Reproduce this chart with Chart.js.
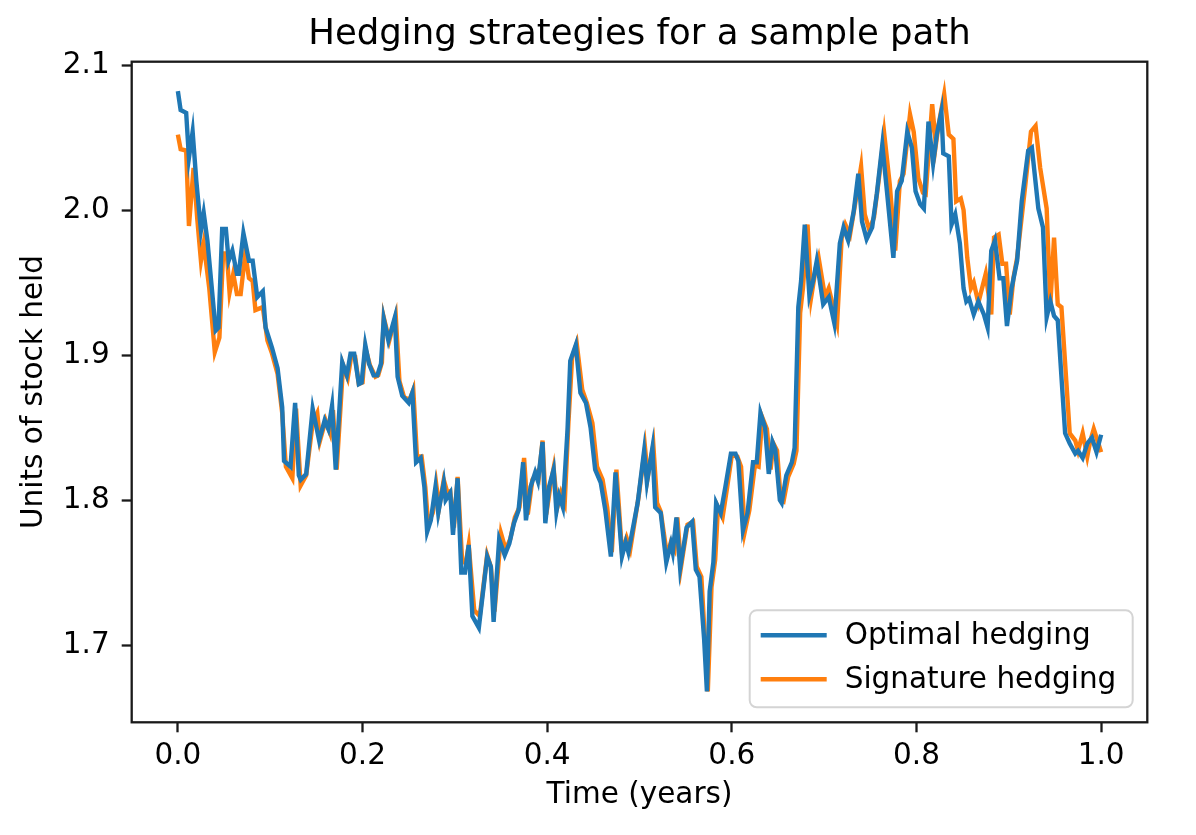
<!DOCTYPE html>
<html>
<head>
<meta charset="utf-8">
<title>Hedging strategies for a sample path</title>
<script src="https://cdn.jsdelivr.net/npm/chart.js@4.4.1/dist/chart.umd.min.js"></script>
<style>
  html, body { margin: 0; padding: 0; background: #ffffff; }
  #chart { display: block; }
</style>
</head>
<body>
<canvas id="chart" width="1196" height="835"></canvas>
<script>
// Optimal hedging (blue) - time in years and units of stock held
const optimalTime = [
  0.000, 0.003, 0.009, 0.012, 0.016, 0.020, 0.025, 0.028, 0.032, 0.041,
  0.044, 0.048, 0.052, 0.055, 0.059, 0.064, 0.066, 0.071, 0.077, 0.081,
  0.086, 0.092, 0.095, 0.102, 0.108, 0.113, 0.115, 0.122, 0.127, 0.131,
  0.133, 0.139, 0.146, 0.153, 0.159, 0.163, 0.167, 0.171, 0.178, 0.183,
  0.187, 0.191, 0.196, 0.199, 0.203, 0.207, 0.212, 0.216, 0.220, 0.223,
  0.228, 0.235, 0.238, 0.243, 0.250, 0.254, 0.258, 0.263, 0.267, 0.270,
  0.274, 0.279, 0.282, 0.288, 0.290, 0.295, 0.298, 0.303, 0.307, 0.311,
  0.315, 0.319, 0.326, 0.335, 0.339, 0.342, 0.348, 0.354, 0.359, 0.364,
  0.369, 0.374, 0.377, 0.382, 0.387, 0.390, 0.395, 0.398, 0.402, 0.407,
  0.410, 0.413, 0.417, 0.422, 0.425, 0.431, 0.436, 0.442, 0.447, 0.452,
  0.458, 0.463, 0.469, 0.474, 0.481, 0.485, 0.488, 0.498, 0.505, 0.508,
  0.514, 0.517, 0.523, 0.529, 0.534, 0.536, 0.540, 0.544, 0.551, 0.557,
  0.561, 0.565, 0.570, 0.573, 0.576, 0.580, 0.583, 0.588, 0.593, 0.599,
  0.604, 0.607, 0.612, 0.617, 0.623, 0.627, 0.631, 0.636, 0.640, 0.644,
  0.647, 0.652, 0.654, 0.659, 0.665, 0.668, 0.672, 0.675, 0.679, 0.684,
  0.688, 0.692, 0.699, 0.705, 0.711, 0.717, 0.721, 0.726, 0.732, 0.737,
  0.741, 0.746, 0.752, 0.757, 0.763, 0.768, 0.775, 0.779, 0.784, 0.790,
  0.795, 0.799, 0.804, 0.808, 0.813, 0.818, 0.822, 0.827, 0.829, 0.835,
  0.838, 0.842, 0.847, 0.851, 0.854, 0.857, 0.862, 0.867, 0.873, 0.877,
  0.881, 0.885, 0.890, 0.894, 0.898, 0.903, 0.909, 0.914, 0.921, 0.925,
  0.932, 0.937, 0.941, 0.945, 0.949, 0.953, 0.961, 0.966, 0.972, 0.975,
  0.980, 0.985, 0.990, 0.995, 1.000
];
const optimalUnits = [
  2.082, 2.069, 2.067, 2.036, 2.054, 2.020, 1.986, 1.998, 1.979, 1.917,
  1.919, 1.987, 1.987, 1.965, 1.972, 1.956, 1.956, 1.984, 1.965, 1.965,
  1.940, 1.944, 1.919, 1.905, 1.891, 1.864, 1.827, 1.823, 1.867, 1.817,
  1.814, 1.818, 1.863, 1.841, 1.855, 1.849, 1.865, 1.821, 1.895, 1.886,
  1.901, 1.901, 1.880, 1.881, 1.907, 1.894, 1.886, 1.886, 1.894, 1.925,
  1.910, 1.926, 1.885, 1.872, 1.867, 1.874, 1.826, 1.829, 1.809, 1.778,
  1.786, 1.809, 1.791, 1.812, 1.800, 1.805, 1.776, 1.815, 1.750, 1.750,
  1.769, 1.720, 1.712, 1.761, 1.754, 1.716, 1.773, 1.762, 1.770, 1.784,
  1.793, 1.826, 1.786, 1.809, 1.819, 1.813, 1.840, 1.784, 1.809, 1.821,
  1.792, 1.803, 1.795, 1.848, 1.896, 1.907, 1.874, 1.867, 1.850, 1.821,
  1.812, 1.793, 1.761, 1.819, 1.761, 1.771, 1.764, 1.798, 1.834, 1.812,
  1.836, 1.795, 1.791, 1.757, 1.770, 1.764, 1.788, 1.753, 1.781, 1.785,
  1.752, 1.747, 1.704, 1.668, 1.737, 1.757, 1.798, 1.791, 1.809, 1.832,
  1.832, 1.827, 1.779, 1.791, 1.826, 1.826, 1.860, 1.850, 1.818, 1.840,
  1.835, 1.800, 1.798, 1.817, 1.826, 1.836, 1.933, 1.951, 1.990, 1.941,
  1.951, 1.965, 1.935, 1.940, 1.922, 1.977, 1.988, 1.979, 1.999, 2.025,
  1.992, 1.980, 1.988, 2.011, 2.045, 2.013, 1.967, 2.013, 2.020, 2.054,
  2.043, 2.013, 2.004, 2.001, 2.061, 2.032, 2.052, 2.068, 2.039, 2.037,
  1.990, 1.997, 1.977, 1.946, 1.937, 1.939, 1.928, 1.937, 1.928, 1.919,
  1.972, 1.979, 1.953, 1.953, 1.920, 1.946, 1.965, 2.006, 2.041, 2.043,
  2.001, 1.988, 1.926, 1.937, 1.927, 1.924, 1.846, 1.839, 1.832, 1.834,
  1.829, 1.839, 1.843, 1.833, 1.845
];

// Signature hedging (orange)
const signatureTime = [
  0.000, 0.003, 0.009, 0.012, 0.017, 0.021, 0.025, 0.028, 0.034, 0.040,
  0.045, 0.049, 0.053, 0.056, 0.060, 0.064, 0.068, 0.073, 0.077, 0.081,
  0.084, 0.092, 0.097, 0.102, 0.108, 0.113, 0.117, 0.124, 0.128, 0.133,
  0.139, 0.146, 0.151, 0.154, 0.160, 0.165, 0.168, 0.172, 0.179, 0.184,
  0.188, 0.192, 0.196, 0.200, 0.203, 0.208, 0.214, 0.217, 0.221, 0.223,
  0.229, 0.236, 0.240, 0.245, 0.251, 0.255, 0.259, 0.264, 0.268, 0.271,
  0.276, 0.280, 0.283, 0.288, 0.292, 0.295, 0.299, 0.303, 0.308, 0.312,
  0.315, 0.321, 0.327, 0.335, 0.339, 0.343, 0.350, 0.355, 0.360, 0.365,
  0.370, 0.375, 0.379, 0.384, 0.389, 0.391, 0.395, 0.399, 0.404, 0.407,
  0.411, 0.415, 0.419, 0.423, 0.427, 0.432, 0.438, 0.443, 0.449, 0.454,
  0.460, 0.465, 0.470, 0.475, 0.481, 0.486, 0.490, 0.499, 0.506, 0.509,
  0.515, 0.519, 0.523, 0.530, 0.534, 0.538, 0.541, 0.545, 0.552, 0.558,
  0.562, 0.567, 0.571, 0.574, 0.578, 0.582, 0.585, 0.590, 0.595, 0.600,
  0.606, 0.610, 0.614, 0.619, 0.625, 0.629, 0.633, 0.638, 0.642, 0.645,
  0.649, 0.653, 0.656, 0.661, 0.667, 0.670, 0.674, 0.677, 0.682, 0.686,
  0.691, 0.694, 0.701, 0.705, 0.714, 0.719, 0.723, 0.728, 0.734, 0.740,
  0.744, 0.749, 0.754, 0.759, 0.765, 0.771, 0.777, 0.782, 0.786, 0.793,
  0.797, 0.802, 0.807, 0.810, 0.817, 0.821, 0.824, 0.830, 0.835, 0.840,
  0.843, 0.848, 0.851, 0.855, 0.859, 0.862, 0.867, 0.875, 0.881, 0.884,
  0.889, 0.893, 0.897, 0.901, 0.905, 0.909, 0.918, 0.924, 0.929, 0.934,
  0.941, 0.945, 0.949, 0.953, 0.957, 0.966, 0.972, 0.975, 0.980, 0.985,
  0.988, 0.992, 0.997, 1.000
];
const signatureUnits = [
  2.052, 2.042, 2.041, 1.989, 2.029, 1.994, 1.965, 1.977, 1.946, 1.902,
  1.912, 1.970, 1.970, 1.943, 1.956, 1.942, 1.942, 1.970, 1.953, 1.951,
  1.931, 1.933, 1.910, 1.901, 1.887, 1.860, 1.823, 1.815, 1.863, 1.810,
  1.817, 1.853, 1.860, 1.841, 1.855, 1.846, 1.862, 1.821, 1.893, 1.884,
  1.900, 1.899, 1.880, 1.881, 1.905, 1.893, 1.885, 1.886, 1.895, 1.926,
  1.910, 1.927, 1.882, 1.871, 1.869, 1.876, 1.830, 1.830, 1.809, 1.784,
  1.791, 1.810, 1.795, 1.814, 1.805, 1.806, 1.781, 1.816, 1.757, 1.757,
  1.769, 1.724, 1.720, 1.762, 1.754, 1.723, 1.777, 1.766, 1.773, 1.788,
  1.795, 1.829, 1.790, 1.814, 1.819, 1.816, 1.841, 1.790, 1.812, 1.822,
  1.795, 1.805, 1.798, 1.853, 1.898, 1.908, 1.876, 1.867, 1.853, 1.823,
  1.814, 1.795, 1.764, 1.821, 1.764, 1.774, 1.766, 1.802, 1.836, 1.816,
  1.838, 1.798, 1.792, 1.761, 1.771, 1.766, 1.788, 1.754, 1.783, 1.785,
  1.754, 1.747, 1.702, 1.668, 1.740, 1.759, 1.795, 1.788, 1.809, 1.831,
  1.830, 1.823, 1.778, 1.793, 1.824, 1.823, 1.857, 1.849, 1.821, 1.839,
  1.834, 1.800, 1.799, 1.816, 1.825, 1.834, 1.929, 1.946, 1.990, 1.940,
  1.960, 1.967, 1.940, 1.946, 1.922, 1.981, 1.990, 1.983, 2.006, 2.030,
  1.997, 1.986, 1.995, 2.020, 2.053, 2.018, 1.972, 2.020, 2.025, 2.066,
  2.054, 2.022, 2.012, 2.011, 2.073, 2.045, 2.059, 2.080, 2.052, 2.049,
  2.006, 2.008, 2.000, 1.967, 1.946, 1.950, 1.936, 1.956, 1.928, 1.981,
  1.983, 1.963, 1.963, 1.928, 1.953, 1.967, 2.018, 2.054, 2.058, 2.029,
  2.001, 1.935, 1.981, 1.935, 1.933, 1.846, 1.841, 1.834, 1.846, 1.830,
  1.840, 1.849, 1.839, 1.833
];

const seriesNames = ["Optimal hedging", "Signature hedging"];
const seriesColors = ["#1f77b4", "#ff7f0e"];
const xTicks = [0.0, 0.2, 0.4, 0.6, 0.8, 1.0];
const yTicks = [1.7, 1.8, 1.9, 2.0, 2.1];
const chartTitle = "Hedging strategies for a sample path";

const FONT = "'DejaVu Sans', 'Liberation Sans', sans-serif";
const INK = "#000000";
const BASE = 29.5; // 10pt text

// Build points from the arrays
function toPoints(times, values) {
  return times.map((t, i) => ({ x: t, y: values[i] }));
}

// Title centred over the axes, like matplotlib's ax.set_title
const titlePlugin = {
  id: "axesTitle",
  afterDraw(chart) {
    const { ctx, chartArea: a } = chart;
    ctx.save();
    ctx.font = "35.5px " + FONT;
    ctx.fillStyle = INK;
    ctx.textAlign = "center";
    ctx.textBaseline = "alphabetic";
    ctx.fillText(chartTitle, (a.left + a.right) / 2, a.top - 17.3);
    ctx.restore();
  }
};

// Box around the axes
const framePlugin = {
  id: "frame",
  afterDatasetsDraw(chart) {
    const { ctx, chartArea: a } = chart;
    ctx.save();
    ctx.strokeStyle = "#1a1a1a";
    ctx.lineWidth = 2.3;
    ctx.strokeRect(a.left, a.top, a.right - a.left, a.bottom - a.top);
    ctx.restore();
  }
};

// Legend box in the lower right corner of the plot
const legendPlugin = {
  id: "boxLegend",
  afterDraw(chart) {
    const { ctx, chartArea: a } = chart;
    const w = 383, h = 97;
    const x = a.right - 14.6 - w;
    const y = a.bottom - 15 - h;
    ctx.save();
    ctx.beginPath();
    ctx.roundRect(x, y, w, h, 7);
    ctx.fillStyle = "rgba(255,255,255,0.8)";
    ctx.fill();
    ctx.strokeStyle = "#d4d4d4";
    ctx.lineWidth = 2;
    ctx.stroke();
    ctx.font = BASE + "px " + FONT;
    ctx.textBaseline = "middle";
    ctx.textAlign = "left";
    seriesNames.forEach((name, i) => {
      const cy = y + 25 + i * 44;
      ctx.strokeStyle = seriesColors[i];
      ctx.lineWidth = 4.4;
      ctx.beginPath();
      ctx.moveTo(x + 11, cy);
      ctx.lineTo(x + 77, cy);
      ctx.stroke();
      ctx.fillStyle = INK;
      ctx.fillText(name, x + 95, cy + 1);
    });
    ctx.restore();
  }
};

const ctx = document.getElementById("chart");

new Chart(ctx, {
  type: "line",
  data: {
    datasets: [
      {
        label: seriesNames[0],
        data: toPoints(optimalTime, optimalUnits),
        borderColor: seriesColors[0],
        borderWidth: 4.4,
        pointRadius: 0,
        tension: 0,
        fill: false
      },
      {
        label: seriesNames[1],
        data: toPoints(signatureTime, signatureUnits),
        borderColor: seriesColors[1],
        borderWidth: 4.4,
        pointRadius: 0,
        tension: 0,
        fill: false
      }
    ]
  },
  options: {
    responsive: false,
    animation: false,
    devicePixelRatio: 1,
    layout: { padding: { left: 0, right: 48.7, top: 61.7, bottom: 0 } },
    plugins: {
      legend: { display: false },
      tooltip: { enabled: false },
      title: { display: false }
    },
    scales: {
      x: {
        type: "linear",
        min: -0.05,
        max: 1.05,
        afterBuildTicks: (s) => { s.ticks = xTicks.map((v) => ({ value: v })); },
        afterFit: (s) => { s.height = 112.7; },
        ticks: {
          color: INK,
          font: { family: FONT, size: BASE },
          padding: 6,
          maxRotation: 0,
          autoSkip: false,
          callback: (v) => Number(v).toFixed(1)
        },
        grid: {
          drawOnChartArea: false,
          drawTicks: true,
          tickLength: 10,
          tickWidth: 2.3,
          tickColor: "#1a1a1a"
        },
        border: { display: false },
        title: {
          display: true,
          text: "Time (years)",
          color: INK,
          font: { family: FONT, size: BASE, lineHeight: 1.2 },
          padding: { top: 0, bottom: 21.5 }
        }
      },
      y: {
        type: "linear",
        min: 1.6467,
        max: 2.1023,
        afterBuildTicks: (s) => { s.ticks = yTicks.map((v) => ({ value: v })); },
        afterFit: (s) => { s.width = 131.7; },
        ticks: {
          color: INK,
          font: { family: FONT, size: BASE },
          padding: 12,
          autoSkip: false,
          callback: (v) => Number(v).toFixed(1)
        },
        grid: {
          drawOnChartArea: false,
          drawTicks: true,
          tickLength: 10,
          tickWidth: 2.3,
          tickColor: "#1a1a1a"
        },
        border: { display: false },
        title: {
          display: true,
          text: "Units of stock held",
          color: INK,
          font: { family: FONT, size: BASE, lineHeight: 1.2 },
          padding: { top: 16.5, bottom: 0 }
        }
      }
    }
  },
  plugins: [framePlugin, legendPlugin, titlePlugin]
});
</script>
</body>
</html>
